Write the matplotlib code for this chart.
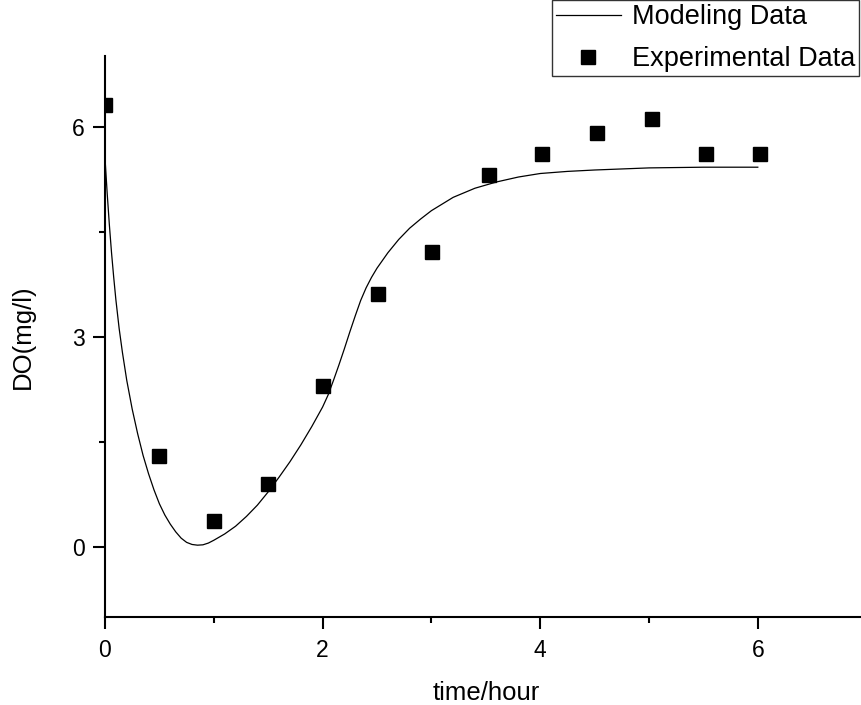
import numpy as np
import matplotlib
import matplotlib.pyplot as plt
from matplotlib.ticker import MultipleLocator

matplotlib.use('Agg')

plt.rcParams['font.family'] = ['Liberation Sans', 'DejaVu Sans']

# Misure sperimentali di ossigeno disciolto
t_exp = [0.0, 0.5, 1.0, 1.5, 2.0, 2.51, 3.01, 3.53, 4.02, 4.52, 5.03, 5.52, 6.02]
do_exp = [6.30, 1.30, 0.37, 0.90, 2.30, 3.61, 4.21, 5.31, 5.61, 5.91, 6.11, 5.61, 5.61]

# Curva del modello
t_mod = [0.0, 0.02, 0.04, 0.06, 0.08, 0.10, 0.13, 0.16, 0.20, 0.25, 0.30, 0.35,
         0.40, 0.45, 0.50, 0.55, 0.60, 0.65, 0.70, 0.75, 0.80, 0.85, 0.90, 0.95,
         1.00, 1.10, 1.20, 1.30, 1.40, 1.50, 1.60, 1.70, 1.80, 1.90, 2.00, 2.05,
         2.10, 2.15, 2.20, 2.25, 2.30, 2.35, 2.40, 2.45, 2.50, 2.60, 2.70, 2.80,
         2.90, 3.00, 3.20, 3.40, 3.60, 3.80, 4.00, 4.25, 4.50, 5.00, 5.50, 6.00]
do_mod = [5.55, 5.05, 4.60, 4.20, 3.85, 3.53, 3.12, 2.78, 2.38, 1.97, 1.62, 1.31,
          1.05, 0.82, 0.62, 0.46, 0.33, 0.22, 0.13, 0.07, 0.04, 0.03, 0.035, 0.06,
          0.10, 0.19, 0.30, 0.44, 0.60, 0.79, 1.00, 1.22, 1.46, 1.72, 2.00, 2.17,
          2.38, 2.60, 2.83, 3.07, 3.30, 3.52, 3.70, 3.85, 3.98, 4.20, 4.39, 4.55,
          4.68, 4.80, 4.99, 5.12, 5.21, 5.28, 5.33, 5.36, 5.38, 5.41, 5.42, 5.42]

fig = plt.figure(figsize=(8.62, 7.05), dpi=100)
ax = fig.add_axes([105 / 862, 87.6 / 705, 761.6 / 862, 561 / 705])

ax.plot(t_mod, do_mod, '-', color='black', lw=0.9, label='Modeling Data')
ax.plot(t_exp, do_exp, 's', color='black', markersize=9.5, label='Experimental Data')

ax.set_xlim(0, 7)
ax.set_ylim(-1, 7)
ax.xaxis.set_major_locator(MultipleLocator(2))
ax.xaxis.set_minor_locator(MultipleLocator(1))
ax.yaxis.set_major_locator(MultipleLocator(3))
ax.yaxis.set_minor_locator(MultipleLocator(1.5))

for s in ['top', 'right']:
    ax.spines[s].set_visible(False)
for s in ['left', 'bottom']:
    ax.spines[s].set_linewidth(1.5)

ax.tick_params(which='major', direction='out', length=8.5, width=1.5, labelsize=16.5, pad=6)
ax.tick_params(which='minor', direction='out', length=4.3, width=1.5)
ax.tick_params(axis='x', which='major', pad=7)

ax.set_xlabel('time/hour', fontsize=18.5, labelpad=14)
ax.set_ylabel('DO(mg/l)', fontsize=18.5, labelpad=27)

leg = fig.legend(loc='upper right', bbox_to_anchor=(859 / 862, 1.0), fontsize=19.5,
                 frameon=True, fancybox=False, borderaxespad=0, borderpad=0.15,
                 handlelength=2.4, handletextpad=0.4, labelspacing=0.6)
leg.get_frame().set_edgecolor('black')
leg.get_frame().set_linewidth(1.0)

plt.savefig('out.png', dpi=100)
plt.close()
